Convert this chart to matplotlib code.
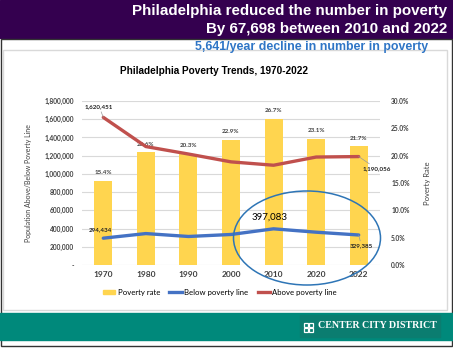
import matplotlib
matplotlib.use("Agg")
import matplotlib.pyplot as plt
from matplotlib.patches import Rectangle, Ellipse
from matplotlib.lines import Line2D

# data
years = ["1970", "1980", "1990", "2000", "2010", "2020", "2022"]
poverty_rate = [15.4, 20.6, 20.3, 22.9, 26.7, 23.1, 21.7]
below_line = [294434, 345000, 313000, 335000, 397083, 360000, 329385]
above_line = [1620451, 1300000, 1218000, 1132000, 1095000, 1185000, 1190056]

W, H = 453, 348
GOLD = "#FFD54F"
BLUE = "#4472C4"
RED = "#C0504D"
TXT = "#404040"


def fx(x):
    return x / W


def fy(y):
    return 1 - y / H


fig = plt.figure(figsize=(W / 100, H / 100), dpi=100)

# header band
fig.add_artist(Rectangle((0, fy(38)), 1, 38 / H, transform=fig.transFigure,
                         color="#34004f", zorder=0))
fig.text(fx(447), fy(11), "Philadelphia reduced the number in poverty", ha="right",
         va="center", color="white", fontsize=10.9, fontweight="bold",
         family="Liberation Sans")
fig.text(fx(447), fy(29), "By 67,698 between 2010 and 2022", ha="right",
         va="center", color="white", fontsize=10.9, fontweight="bold",
         family="Liberation Sans")
fig.text(fx(311.5), fy(47), "5,641/year decline in number in poverty", ha="center",
         va="center", color="#2E75C6", fontsize=8.9, fontweight="bold",
         family="Liberation Sans")

# slide border and chart panel
fig.add_artist(Rectangle((fx(0.5), fy(346)), fx(451.5), (346 - 39) / H,
                         transform=fig.transFigure, fill=False, ec="#333333", lw=1.0))
fig.add_artist(Rectangle((fx(3), fy(310)), fx(444), (310 - 50) / H,
                         transform=fig.transFigure, fill=False, ec="#d9d9d9", lw=1))

# footer band
fig.add_artist(Rectangle((0, fy(340)), 1, 27 / H, transform=fig.transFigure,
                         color="#00897B", zorder=1))
fig.add_artist(Rectangle((fx(300), fy(337)), fx(140), 22 / H, transform=fig.transFigure,
                         color="#0b7d70", zorder=1))
for dx, dy in [(0, 0), (5, 0), (0, 5), (5, 5)]:
    fig.add_artist(Rectangle((fx(304 + dx), fy(327 + dy)), fx(4), 4 / H,
                             transform=fig.transFigure, fill=False, ec="white",
                             lw=0.9, zorder=2))
fig.text(fx(377), fy(326), "CENTER CITY DISTRICT", ha="center", va="center",
         color="white", fontsize=7.2, fontweight="bold", family="Liberation Serif",
         zorder=3)

fig.text(fx(214), fy(71), "Philadelphia Poverty Trends, 1970-2022", ha="center",
         va="center", fontsize=7.2, fontweight="bold", family="Liberation Sans")

# axes
rect = [fx(82), fy(265), fx(298), 164 / H]
ax = fig.add_axes(rect)
x = range(len(years))
ax.set_xlim(-0.5, len(years) - 0.5)
ax.set_ylim(0, 1800000)
ax.set_yticks(range(0, 1800001, 200000))
ax.set_yticklabels(["-"] + [f"{v:,}" for v in range(200000, 1800001, 200000)])
ax.grid(axis="y", color="#d9d9d9", lw=0.8)
ax.set_axisbelow(True)
ax.tick_params(axis="y", length=0, pad=6, labelsize=4.8, labelcolor=TXT)
ax.set_xticks(list(x))
ax.set_xticklabels(years, fontweight="bold")
ax.tick_params(axis="x", length=0, pad=4, labelsize=6, labelcolor=TXT)
for lbl in ax.get_yticklabels() + ax.get_xticklabels():
    lbl.set_family("Lato")
    lbl.set_fontweight("bold")
for s in ax.spines.values():
    s.set_visible(False)
ax.set_ylabel("Population Above/Below Poverty Line", fontsize=5, family="Lato",
              color=TXT, labelpad=9)

# bars on the rate axis
axb = ax.twinx()
axb.set_ylim(0, 30)
axb.set_yticks(range(0, 31, 5))
axb.set_yticklabels([f"{v:.1f}%" for v in range(0, 31, 5)])
axb.tick_params(axis="y", length=0, pad=8, labelsize=4.8, labelcolor=TXT)
for lbl in axb.get_yticklabels():
    lbl.set_family("Lato")
    lbl.set_fontweight("bold")
for s in axb.spines.values():
    s.set_visible(False)
axb.patch.set_visible(False)
axb.set_ylabel("Poverty Rate", fontsize=5.5, family="Lato", color=TXT, labelpad=10)
bars = axb.bar(x, poverty_rate, width=0.42, color=GOLD)
for b, v in zip(bars, poverty_rate):
    axb.annotate(f"{v}%", (b.get_x() + b.get_width() / 2, v), xytext=(0, 4),
                 textcoords="offset points", ha="center", va="bottom",
                 fontsize=4.5, fontweight="bold", family="Lato", color=TXT)

# lines on top
axl = fig.add_axes(rect, sharex=ax, sharey=ax)
axl.axis("off")
axl.patch.set_visible(False)
axl.plot(x, above_line, color=RED, lw=2.4, solid_capstyle="round")
axl.plot(x, below_line, color=BLUE, lw=2.4, solid_capstyle="round")

lab = dict(fontsize=4.5, fontweight="bold", family="Lato", color="#222222")
leader = dict(arrowstyle="-", color="#999999", lw=0.5, shrinkA=0, shrinkB=0)
axl.annotate("1,620,451", (0, above_line[0]), xytext=(-3, 6), textcoords="offset points",
             ha="center", va="bottom", arrowprops=leader, **lab)
axl.annotate("294,434", (0, below_line[0]), xytext=(-2, 4), textcoords="offset points",
             ha="center", va="bottom", **lab)
axl.annotate("1,190,056", (6, above_line[6]), xytext=(3, -9), textcoords="offset points",
             ha="left", va="center", arrowprops=leader, **lab)
axl.annotate("329,385", (6, below_line[6]), xytext=(2, -8), textcoords="offset points",
             ha="center", va="center", arrowprops=leader, **lab)
axl.annotate("397,083", (4, below_line[4]), xytext=(-3, 5), textcoords="offset points",
             ha="center", va="bottom", fontsize=7, family="Lato", color="black")

# highlight ellipse around the recent decline
fig.add_artist(Ellipse((fx(307), fy(238)), fx(147), 94 / H, transform=fig.transFigure,
                       fill=False, ec="#2E75B6", lw=1.1, zorder=5))

handles = [Rectangle((0, 0), 1, 1, color=GOLD),
           Line2D([], [], color=BLUE, lw=2.4),
           Line2D([], [], color=RED, lw=2.4)]
fig.legend(handles, ["Poverty rate", "Below poverty line", "Above poverty line"],
           loc="center", bbox_to_anchor=(fx(220), fy(292)), ncol=3, frameon=False,
           prop={"family": "Lato", "size": 5.6}, handlelength=1.6, handleheight=0.5,
           handletextpad=0.3, columnspacing=1.2)

fig.savefig("out.png", dpi=100)
